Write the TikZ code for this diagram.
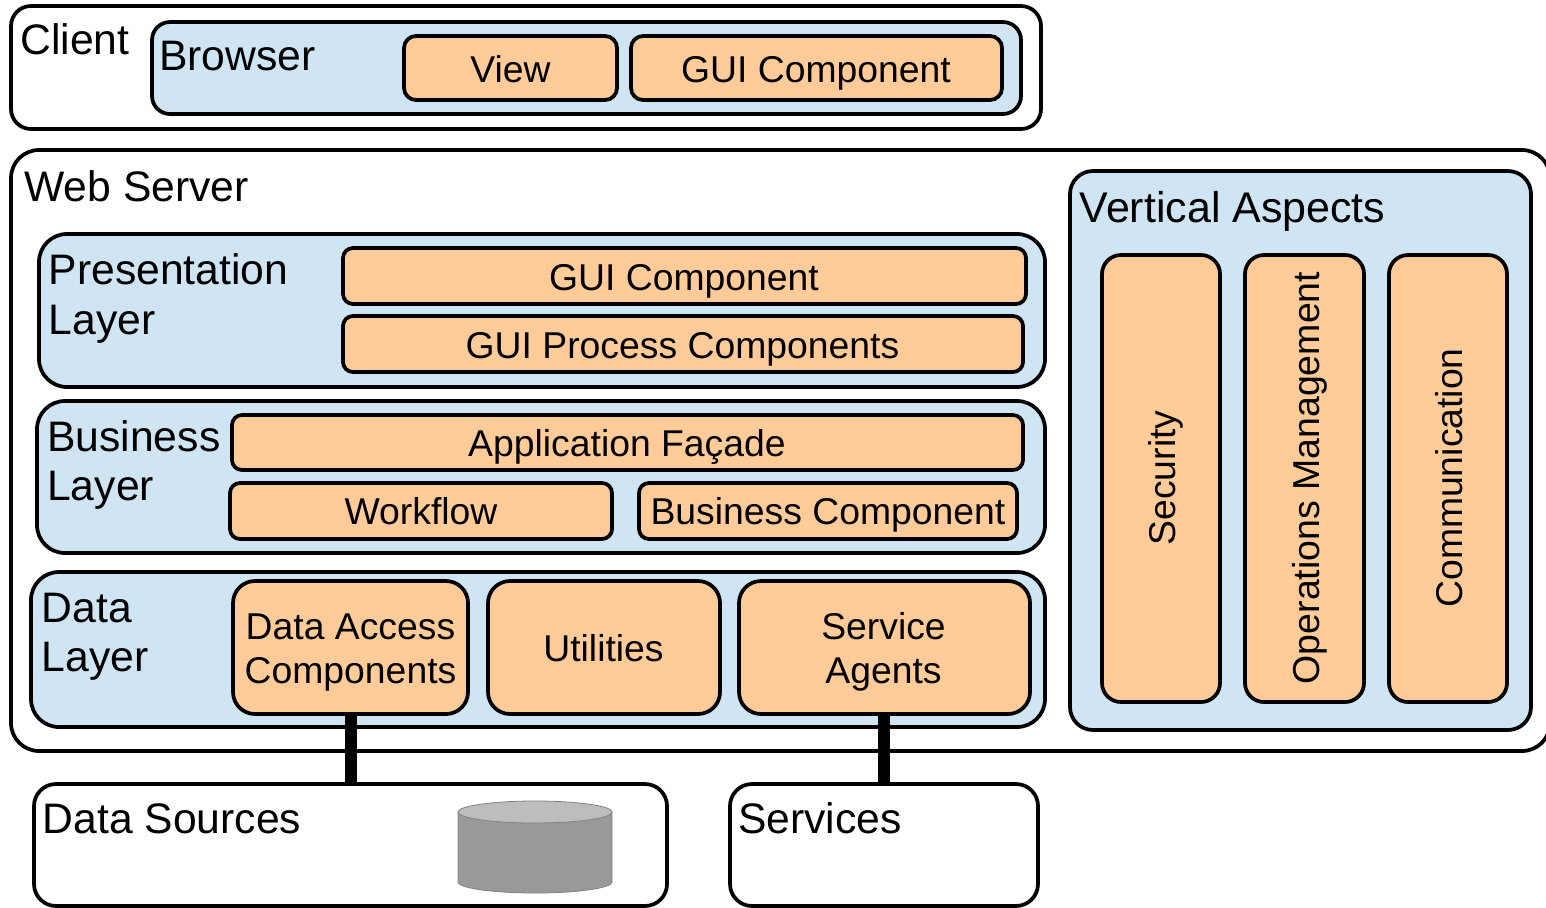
\documentclass[tikz,border=0pt]{standalone}
\usepackage{fontspec}
\setmainfont{Liberation Sans}
\definecolor{peach}{HTML}{FFCC99}
\definecolor{pale}{HTML}{CFE5F3}
\definecolor{cylside}{HTML}{999999}
\definecolor{cyltop}{HTML}{BDBDBD}
\tikzset{x=0.75pt,y=-0.75pt,
  outerbox/.style={draw=black,line width=2.8pt,fill=white},
  groupbox/.style={draw=black,line width=2.8pt,fill=pale},
  compbox/.style={draw=black,line width=2.8pt,fill=peach},
  heading/.style={anchor=base west,font=\fontsize{32}{38}\selectfont,inner sep=0pt},
  comptext/.style={anchor=base,font=\fontsize{28}{34}\selectfont,inner sep=0pt,align=center},
  link/.style={line width=8.6pt}}
\newcommand{\RB}[7][]{\node[#2,outer sep=0pt,rounded corners=#7*0.75pt,minimum width=(#5-#3)*0.75pt,minimum height=(#6-#4)*0.75pt,inner sep=0pt,anchor=north west,#1] at (#3,#4) {};}
\begin{document}
\begin{tikzpicture}
\useasboundingbox (0,0) rectangle (1546,907);
\begin{scope}
\clip (0,0) rectangle (1546,907);
% Client
\RB[name=client]{outerbox}{11}{6}{1041}{129}{20}
\RB[name=browser]{groupbox}{152}{22}{1021}{114}{18}
\RB[name=view]{compbox}{404}{36}{617}{100}{12}
\RB[name=guia]{compbox}{631}{36}{1002}{100}{12}
% Web server
\RB[name=web]{outerbox}{11}{150}{1550}{751}{28}
\RB[name=pres]{groupbox}{39}{234}{1045}{387}{28}
\RB[name=guib]{compbox}{343}{248}{1026}{304}{10}
\RB[name=guic]{compbox}{343}{316}{1023}{372}{10}
\RB[name=bus]{groupbox}{37}{401}{1045}{553}{28}
\RB[name=facade]{compbox}{232}{415}{1023}{470}{10}
\RB[name=work]{compbox}{230}{483}{612}{539}{10}
\RB[name=buscomp]{compbox}{639}{483}{1017}{539}{10}
\RB[name=data]{groupbox}{31}{572}{1045}{727}{28}
\RB[name=dac]{compbox}{233}{581}{468}{714}{22}
\RB[name=util]{compbox}{488}{581}{720}{714}{22}
\RB[name=agents]{compbox}{739}{581}{1030}{714}{22}
% Vertical
\RB[name=vert]{groupbox}{1070}{171}{1531}{730}{23}
\RB[name=sec]{compbox}{1102}{255}{1220}{702}{19}
\RB[name=ops]{compbox}{1245}{255}{1364}{702}{19}
\RB[name=comm]{compbox}{1389}{255}{1507}{702}{19}
% bottom
\RB[name=src]{outerbox}{34}{784}{667}{906}{22}
\RB[name=svc]{outerbox}{730}{784}{1038}{906}{22}
% links
\draw[link] (dac.south -| 351,0) -- (src.north -| 351,0);
\draw[link] (agents.south -| 884,0) -- (svc.north -| 884,0);
% cylinder
\path[draw=cylside!85!black,line width=0.6pt,fill=cylside] (458,812) -- (458,882) arc[x radius=77,y radius=11,start angle=180,end angle=0] -- (612,812) -- cycle;
\path[draw=cylside!85!black,line width=0.6pt,fill=cyltop] (535,812) ellipse[x radius=77,y radius=11];
\end{scope}
% texts
\node[heading] (t1) at (20,54) {Client};
\node[heading] (t2) at (159,70) {Browser};
\node[comptext] (t3) at (510.5,82) {View};
\node[comptext] (t4) at (816,82) {GUI Component};
\node[heading] (t5) at (24,201) {Web Server};
\node[heading] (t6) at (48.5,284) {Presentation};
\node[heading] (t7) at (48.5,334) {Layer};
\node[comptext] (t8) at (684,290) {GUI Component};
\node[comptext] (t9) at (682.5,358) {GUI Process Components};
\node[heading] (t10) at (47,451) {Business};
\node[heading] (t11) at (47,500) {Layer};
\node[comptext] (t12) at (627,456) {Application Façade};
\node[comptext] (t13) at (421,524) {Workflow};
\node[comptext] (t14) at (828,524) {Business Component};
\node[heading] (t15) at (41.5,622) {Data};
\node[heading] (t16) at (41.5,671) {Layer};
\node[comptext] (t17) at (350.5,639) {Data Access};
\node[comptext] (t18) at (350.5,683) {Components};
\node[comptext] (t19) at (603.5,661) {Utilities};
\node[comptext] (t20) at (883.5,639) {Service};
\node[comptext] (t21) at (883.5,683) {Agents};
\node[heading,font=\fontsize{32.2}{38}\selectfont] (t22) at (1079.5,222) {Vertical Aspects};
\node[comptext,rotate=90] (t23) at (1175,478) {Security};
\node[comptext,rotate=90,font=\fontsize{28.1}{34}\selectfont] (t24) at (1319,478) {Operations Management};
\node[comptext,rotate=90] (t25) at (1462,478) {Communication};
\node[heading] (t26) at (42.5,833) {Data Sources};
\node[heading] (t27) at (738,833) {Services};
\end{tikzpicture}
\end{document}
